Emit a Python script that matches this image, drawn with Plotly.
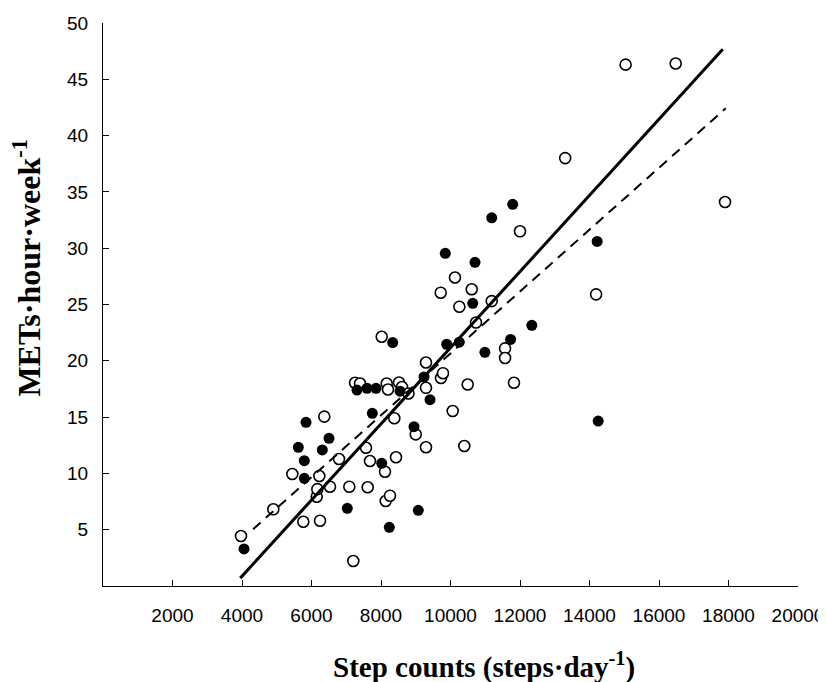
import plotly.graph_objects as go

# Filled circles (group 1)
filled_x = [4058, 5842, 5621, 6311, 6504, 5793, 5793, 7030, 8239, 7750, 8020, 7309,
            7597, 7856, 8547, 8337, 9237, 9410, 8950, 9073, 9890, 10253, 10640, 10705,
            9850, 10990, 11186, 11790, 11730, 12340, 14220, 14250]
filled_y = [3.29, 14.54, 12.32, 12.08, 13.12, 11.13, 9.56, 6.9, 5.21, 15.34, 10.9, 17.4,
            17.56, 17.56, 17.3, 21.62, 18.56, 16.55, 14.15, 6.72, 21.47, 21.65, 25.1, 28.75,
            29.55, 20.75, 32.7, 33.9, 21.9, 23.15, 30.6, 14.65]

# Open circles (group 2)
open_x = [3971, 4901, 5448, 5764, 6245, 6150, 6168, 6225, 6532, 6368, 6791, 7088, 7203,
          7617, 7568, 7683, 8115, 8135, 8259, 8432, 8383, 7252, 7396, 8164, 8201, 8518,
          8604, 8791, 8020, 9295, 9295, 9727, 9784, 9000, 9295, 10063, 10397, 10495,
          11570, 11570, 11827, 10734, 10255, 11186, 10610, 9718, 10129, 12000, 13300,
          14190, 15040, 16480, 17900]
open_y = [4.44, 6.81, 9.95, 5.71, 5.8, 7.93, 8.6, 9.77, 8.82, 15.04, 11.28, 8.82, 2.22,
          8.77, 12.28, 11.1, 10.15, 7.55, 8.02, 11.43, 14.9, 18.05, 17.98, 17.98, 17.45, 18.07,
          17.67, 17.1, 22.14, 19.85, 17.6, 18.47, 18.9, 13.47, 12.32, 15.54, 12.43, 17.9,
          21.1, 20.25, 18.05, 23.4, 24.8, 25.3, 26.35, 26.05, 27.4, 31.5, 38.0,
          25.9, 46.3, 46.4, 34.1]

# Regression lines (end points)
solid_x = [3950, 17835]
solid_y = [0.7, 47.66]
dash_x = [4320, 17920]
dash_y = [5.05, 42.42]

x_ticks = [2000, 4000, 6000, 8000, 10000, 12000, 14000, 16000, 18000, 20000]
y_ticks = [5, 10, 15, 20, 25, 30, 35, 40, 45, 50]

fig = go.Figure()
fig.add_trace(go.Scatter(x=open_x, y=open_y, mode="markers",
                         marker=dict(symbol="circle", size=11, color="white",
                                     line=dict(color="black", width=1.6))))
fig.add_trace(go.Scatter(x=filled_x, y=filled_y, mode="markers",
                         marker=dict(symbol="circle", size=11, color="black",
                                     line=dict(color="black", width=0))))
fig.add_trace(go.Scatter(x=solid_x, y=solid_y, mode="lines",
                         line=dict(color="black", width=3)))
fig.add_trace(go.Scatter(x=dash_x, y=dash_y, mode="lines",
                         line=dict(color="black", width=2, dash="10px,7px")))

axis_common = dict(showgrid=False, zeroline=False, showline=True, linecolor="black",
                   linewidth=1, ticks="inside", ticklen=6, tickcolor="black", tickwidth=1,
                   automargin=False,
                   tickfont=dict(family="Liberation Sans, Arial, sans-serif", size=19, color="black"))

# The page body adds an 8px offset; the figure is sized so the plot lands where the reference has it.
fig.update_layout(
    width=818, height=674,
    margin=dict(l=95, r=28, t=15, b=96),
    paper_bgcolor="white", plot_bgcolor="white",
    showlegend=False,
    xaxis=dict(range=[0, 20000], tickvals=x_ticks, ticktext=[str(v) for v in x_ticks],
               ticklabelstandoff=12, **axis_common),
    yaxis=dict(range=[0, 50], tickvals=y_ticks, ticktext=[str(v) for v in y_ticks],
               ticklabelstandoff=10, **axis_common),
    annotations=[
        dict(text="<b>Step counts (steps·day<sup>-1</sup>)</b>", xref="paper", yref="paper",
             x=0.548, y=-0.142, xanchor="center", yanchor="middle", showarrow=False,
             font=dict(family="Liberation Serif, Times New Roman, serif", size=29, color="black")),
        dict(text="<b>METs·hour·week<sup>-1</sup></b>", xref="paper", yref="paper",
             x=-0.109, y=0.566, xanchor="center", yanchor="middle", textangle=-90, showarrow=False,
             font=dict(family="Liberation Serif, Times New Roman, serif", size=32, color="black")),
    ],
)

fig.write_html("out.html")
